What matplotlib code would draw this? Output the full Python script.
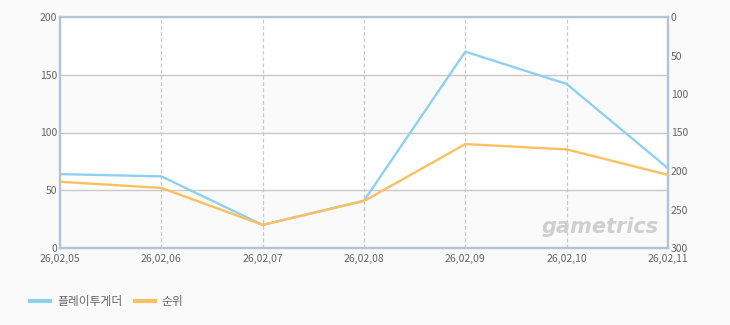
import matplotlib.pyplot as plt

plt.rcParams['font.family'] = ['Noto Sans CJK KR', 'DejaVu Sans']

dates = ['26,02,05', '26,02,06', '26,02,07', '26,02,08', '26,02,09', '26,02,10', '26,02,11']
players = [64, 62, 20, 41, 170, 142, 69]
rank = [214, 222, 270, 239, 165, 172, 205]

left_ticks = [0, 50, 100, 150, 200]
right_ticks = [0, 50, 100, 150, 200, 250, 300]

blue = '#8fd0ef'
orange = '#fdc060'
txt = '#666666'

fig = plt.figure(figsize=(7.3, 3.25), dpi=100)
fig.patch.set_facecolor('#fafafa')
ax = fig.add_axes([60 / 730, 1 - 248 / 325, 608 / 730, 231 / 325])
ax.set_facecolor('white')

x = list(range(len(dates)))
ax.set_xlim(0, len(dates) - 1)
ax.set_ylim(0, 200)

# alternating bands
for i, lo in enumerate(left_ticks[:-1]):
    if i % 2 == 0:
        ax.axhspan(lo, lo + 50, color='#fafafa', zorder=0, lw=0)
for v in left_ticks[1:-1]:
    ax.axhline(v, color='#c8c8c8', lw=1, zorder=1)
for xi in x[1:-1]:
    ax.axvline(xi, color='#c8c8c8', lw=0.9, ls=(0, (3, 2)), zorder=1)

ax2 = ax.twinx()
ax2.set_ylim(300, 0)

ax.plot(x, players, color=blue, lw=1.7, zorder=3)
ax2.plot(x, rank, color=orange, lw=1.7, zorder=3)

ax.set_xticks(x)
ax.set_xticklabels(dates)
ax.set_yticks(left_ticks)
ax2.set_yticks(right_ticks)
ax.tick_params(axis='x', length=0, pad=4, labelsize=7.5, colors=txt)
ax.tick_params(axis='y', length=0, pad=2, labelsize=7.5, colors=txt)
ax2.tick_params(axis='y', length=0, pad=2, labelsize=7.5, colors=txt)

for a in (ax, ax2):
    for s in a.spines.values():
        s.set_color('#b4c4d6')
        s.set_linewidth(1.6)

ax.text(0.985, 0.09, 'gametrics', transform=ax.transAxes, ha='right', va='center',
        fontsize=15, fontweight='bold', style='italic', color='#cfcfcf',
        family='DejaVu Sans', zorder=2)

# legend
fig.lines.append(plt.Line2D([30 / 730, 50 / 730], [1 - 301 / 325] * 2, color=blue, lw=3,
                            transform=fig.transFigure))
fig.text(57 / 730, 1 - 301 / 325, '플레이투게더', fontsize=8.5, color=txt, va='center')
fig.lines.append(plt.Line2D([135 / 730, 155 / 730], [1 - 301 / 325] * 2, color=orange, lw=3,
                            transform=fig.transFigure))
fig.text(161 / 730, 1 - 301 / 325, '순위', fontsize=8.5, color=txt, va='center')

fig.savefig('out.png', dpi=100, facecolor=fig.get_facecolor())
